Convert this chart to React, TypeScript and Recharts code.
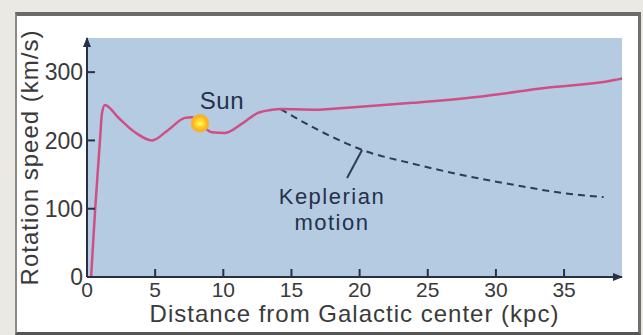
import {
    ComposedChart,
    Line,
    XAxis,
    YAxis,
    CartesianGrid,
    ReferenceDot,
    ReferenceLine,
} from "recharts";

// rotation curve (kpc, km/s)
const rotationKpc = [0.3, 0.6, 0.95, 1.1, 1.32, 2.27, 3.52, 4.77, 5.94, 7.19, 7.7, 8.29, 9.17, 10.1, 11.4, 12.5, 13.6, 14.2, 16.6, 19.1, 23.9, 28.8, 33.7, 38.6, 39.3];
const rotationSpeed = [0, 100, 200, 240, 252, 234, 212, 200, 215, 233, 234, 225, 212, 211, 225, 240, 245, 246, 245, 248, 255, 264, 277, 288, 291];

// keplerian fall-off (dashed)
const keplerKpc = [14.2, 16.6, 19.1, 20.2, 23.9, 27.6, 31.3, 34.9, 37.9];
const keplerSpeed = [246, 219, 195, 186, 166, 149, 135, 123, 117];

const xTicks = [0, 5, 10, 15, 20, 25, 30, 35];
const yTicks = [0, 100, 200, 300];

const sunKpc = 8.29;
const sunSpeed = 225;

const rotationData = rotationKpc.map((x, i) => ({ x, v: rotationSpeed[i] }));
const keplerData = keplerKpc.map((x, i) => ({ x, v: keplerSpeed[i] }));

const FONT = '"Liberation Sans", Arial, sans-serif';
const AXIS = "#283048";
const INK = "#26304c";

const YTitle = ({ viewBox }: any) => {
    const cx = viewBox.x + 29;
    const cy = viewBox.y + viewBox.height / 2;
    return (
        <text
            x={cx}
            y={cy}
            transform={`rotate(-90 ${cx} ${cy})`}
            textAnchor="middle"
            dominantBaseline="central"
            fontSize={24}
            letterSpacing={1}
            fill="#3a3a3a"
        >
            Rotation speed (km/s)
        </text>
    );
};

const App = () => {
    return (
        <div
            style={{
                position: "fixed",
                left: 0,
                top: 0,
                width: 643,
                height: 335,
                background: "#ebe9e3",
                fontFamily: FONT,
            }}
        >
            <div
                style={{
                    position: "absolute",
                    left: 15,
                    top: 12,
                    width: 621,
                    height: 316,
                    background: "#ffffff",
                    borderTop: "4px solid #6a6a6a",
                    borderLeft: "2px solid #8a8a8a",
                    borderRight: "3px solid #707070",
                    borderBottom: "3px solid #555555",
                }}
            />

            <div style={{ position: "absolute", left: 0, top: 0 }}>
                <ComposedChart
                    width={643}
                    height={335}
                    margin={{ top: 38, right: 21, bottom: 0, left: 0 }}
                >
                    <defs>
                        <marker
                            id="axisArrow"
                            viewBox="0 0 10 10"
                            refX="9"
                            refY="5"
                            markerWidth="5"
                            markerHeight="5"
                            orient="auto-start-reverse"
                        >
                            <path d="M0,1 L10,5 L0,9 z" fill={AXIS} />
                        </marker>
                        <radialGradient id="sunGlow">
                            <stop offset="0%" stopColor="#fff36a" />
                            <stop offset="55%" stopColor="#ffd21c" />
                            <stop offset="100%" stopColor="#f2a22c" />
                        </radialGradient>
                    </defs>

                    <CartesianGrid
                        horizontal={false}
                        vertical={false}
                        fill="#b4cbe2"
                        stroke="none"
                    />

                    <XAxis
                        type="number"
                        dataKey="x"
                        domain={[0, 39.25]}
                        ticks={xTicks}
                        allowDataOverflow
                        height={58}
                        tickSize={-8}
                        tickMargin={13}
                        tickLine={{ stroke: AXIS, strokeWidth: 2 }}
                        axisLine={{ stroke: AXIS, strokeWidth: 2, markerEnd: "url(#axisArrow)" }}
                        tick={{ fill: "#3a3a3a", fontSize: 21 }}
                        label={{
                            value: "Distance from Galactic center (kpc)",
                            position: "insideBottom",
                            offset: 13,
                            fill: "#3a3a3a",
                            fontSize: 24,
                            letterSpacing: 1,
                        }}
                    />

                    <YAxis
                        type="number"
                        domain={[0, 350]}
                        ticks={yTicks}
                        allowDataOverflow
                        width={87}
                        tickSize={-8}
                        tickMargin={12}
                        tickLine={{ stroke: AXIS, strokeWidth: 2 }}
                        axisLine={{ stroke: AXIS, strokeWidth: 2, markerStart: "url(#axisArrow)" }}
                        tick={{ fill: "#3a3a3a", fontSize: 23 }}
                        label={YTitle}
                    />

                    <Line
                        data={keplerData}
                        dataKey="v"
                        type="monotone"
                        stroke="#2e3b5a"
                        strokeWidth={2}
                        strokeDasharray="7 5"
                        dot={false}
                        isAnimationActive={false}
                    />

                    <Line
                        data={rotationData}
                        dataKey="v"
                        type="monotone"
                        stroke="#cf4f85"
                        strokeWidth={2.5}
                        dot={false}
                        isAnimationActive={false}
                    />

                    <ReferenceLine
                        segment={[
                            { x: 19.08, y: 145 },
                            { x: 20.18, y: 186 },
                        ]}
                        stroke="#2e3b5a"
                        strokeWidth={2}
                    />

                    <ReferenceDot
                        x={sunKpc}
                        y={sunSpeed}
                        r={8.5}
                        fill="url(#sunGlow)"
                        stroke="#f5b340"
                        strokeWidth={1.5}
                    />

                    <ReferenceDot
                        x={9.9}
                        y={259}
                        r={0}
                        fill="none"
                        stroke="none"
                        label={{ value: "Sun", position: "center", fill: INK, fontSize: 24, letterSpacing: 0.5 }}
                    />
                    <ReferenceDot
                        x={17.97}
                        y={118}
                        r={0}
                        fill="none"
                        stroke="none"
                        label={{ value: "Keplerian", position: "center", fill: INK, fontSize: 22, letterSpacing: 1.5 }}
                    />
                    <ReferenceDot
                        x={17.97}
                        y={80}
                        r={0}
                        fill="none"
                        stroke="none"
                        label={{ value: "motion", position: "center", fill: INK, fontSize: 22, letterSpacing: 1.5 }}
                    />
                </ComposedChart>
            </div>
        </div>
    );
};

export default App;
